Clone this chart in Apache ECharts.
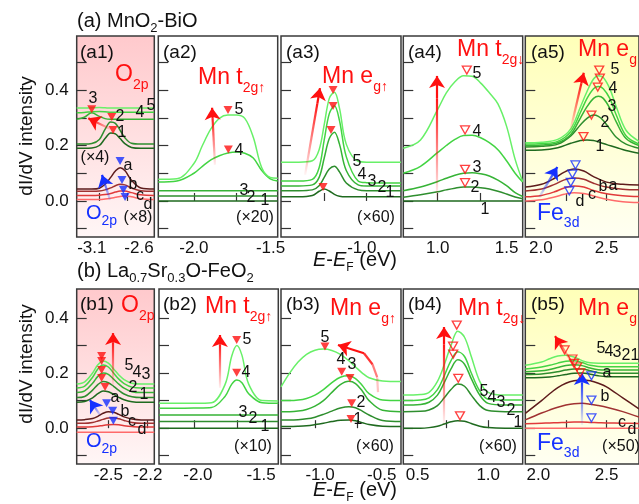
<!DOCTYPE html>
<html><head><meta charset="utf-8">
<script src="https://cdn.jsdelivr.net/npm/echarts@6/dist/echarts.min.js"></script>
<style>html,body{margin:0;padding:0;background:#fff}#c{width:639px;height:504px}</style>
</head><body><div id="c"></div>
<script>
// ================= DATA =================
const rowAY = [-0.13, 0.595];
const rowBY = [-0.13, 0.505];
const yTicksA = [-0.1, 0, 0.1, 0.2, 0.3, 0.4, 0.5];
const yTicksB = [-0.1, 0, 0.1, 0.2, 0.3, 0.4];
const yLabelVals = [0, 0.2, 0.4];
const xRanges = [[-3.26,-2.438],[-2.21,-1.506],[-1.505,-0.797],[0.8,1.494],[2.0,2.70],
                 [-2.741,-2.15],[-2.21,-1.505],[-1.201,-0.491],[0.498,1.204],[2.0,2.70]];
const xTickVals = [[-3.02,-2.72],[-2.0,-1.75],[-1.25,-1.0],[1.0,1.25],[2.25,2.5],
                   [-2.5,-2.2],[-2.0,-1.75],[-1.0,-0.75],[0.75,1.0],[2.25,2.5]];
const xLabelVals = [[-3.1,-2.6],[-2.0,-1.548],[-1.028],[1.0,1.40],[2.096,2.5],
                    [-2.5,-2.2],[-1.98,-1.607],[-0.97,-0.605],[0.583,1.0],[2.08,2.5]];
const xLabelTexts = [['-3.1','-2.6'],['-2.0','-1.5'],['-1.0'],['1.0','1.5'],['2.0','2.5'],
                     ['-2.5','-2.2'],['-2.0','-1.5'],['-1.0','-0.5'],['0.5','1.0'],['2.0','2.5']];

// ---- (a1) O2p
const a1X = [-3.26,-3.18,-3.1,-3.02,-2.96,-2.9,-2.85,-2.8,-2.75,-2.68,-2.58,-2.44];
const a1Green = [
  [0.19,0.19,0.191,0.2,0.225,0.245,0.242,0.225,0.207,0.193,0.19,0.19],
  [0.205,0.205,0.207,0.222,0.258,0.285,0.28,0.255,0.228,0.208,0.205,0.205],
  [0.295,0.302,0.318,0.305,0.297,0.295,0.295,0.295,0.295,0.295,0.295,0.295],
  [0.318,0.319,0.322,0.323,0.322,0.32,0.32,0.32,0.32,0.32,0.32,0.32],
  [0.335,0.335,0.336,0.337,0.336,0.335,0.335,0.335,0.335,0.335,0.335,0.335]
];
const a1Red = [
  [0.043,0.043,0.043,0.046,0.06,0.085,0.108,0.12,0.11,0.075,0.047,0.043],
  [0.035,0.035,0.035,0.036,0.04,0.047,0.055,0.06,0.058,0.047,0.037,0.035],
  [0.02,0.02,0.02,0.021,0.023,0.027,0.032,0.036,0.036,0.03,0.022,0.02],
  [0.005,0.005,0.005,0.005,0.007,0.01,0.013,0.016,0.018,0.015,0.008,0.005]
];
const a1PeakG = [[-3.101,0.331],[-2.889,0.303],[-2.875,0.256]];
const a1PeakR = [[-2.801,0.144],[-2.78,0.076],[-2.766,0.04],[-2.748,0.014]];

// ---- (a2) Mn t2g up
const a2X = [-2.21,-2.1,-2.0,-1.95,-1.9,-1.85,-1.8,-1.75,-1.7,-1.65,-1.6,-1.55,-1.506];
const a2Green = [
  [0,0,0,0,0,0,0,0,0,0,0,0,0],
  [0.018,0.018,0.018,0.018,0.018,0.018,0.018,0.018,0.018,0.018,0.018,0.018,0.018],
  [0.037,0.037,0.037,0.037,0.037,0.037,0.037,0.037,0.037,0.037,0.037,0.037,0.037],
  [0.068,0.072,0.10,0.125,0.148,0.163,0.173,0.177,0.172,0.155,0.11,0.08,0.072],
  [0.078,0.08,0.135,0.2,0.26,0.298,0.31,0.31,0.298,0.23,0.12,0.085,0.082]
];
const a2PeakG = [[-1.799,0.328],[-1.797,0.186]];

// ---- (a3) Mn eg up
const a3X = [-1.505,-1.4,-1.32,-1.28,-1.25,-1.22,-1.19,-1.16,-1.12,-1.05,-1.0,-0.9,-0.797];
const a3Green = [
  [0.015,0.015,0.02,0.035,0.043,0.036,0.024,0.017,0.015,0.015,0.015,0.015,0.015],
  [0.037,0.037,0.04,0.055,0.085,0.115,0.125,0.105,0.065,0.04,0.037,0.037,0.037],
  [0.054,0.054,0.058,0.085,0.155,0.225,0.248,0.205,0.11,0.058,0.054,0.054,0.054],
  [0.072,0.072,0.078,0.12,0.22,0.315,0.343,0.29,0.16,0.072,0.066,0.065,0.065],
  [0.14,0.14,0.145,0.185,0.275,0.37,0.392,0.335,0.205,0.143,0.14,0.14,0.14]
];
const a3PeakG = [[-1.198,0.40],[-1.198,0.3425],[-1.21,0.256],[-1.257,0.05]];

// ---- (a4) Mn t2g down
const a4X = [0.8,0.9,1.0,1.05,1.1,1.15,1.2,1.25,1.3,1.35,1.4,1.45,1.494];
const a4Green = [
  [0,0,0,0,0,0,0,0,0,0,0,0,0],
  [0.013,0.022,0.033,0.04,0.046,0.05,0.05,0.048,0.043,0.035,0.025,0.014,0.008],
  [0.037,0.05,0.07,0.082,0.093,0.1,0.102,0.098,0.09,0.075,0.055,0.03,0.016],
  [0.10,0.125,0.175,0.20,0.222,0.236,0.237,0.228,0.21,0.185,0.145,0.10,0.068],
  [0.19,0.22,0.33,0.39,0.43,0.452,0.45,0.425,0.39,0.35,0.27,0.15,0.07]
];
const a4PeakG = [[1.169,0.472],[1.159,0.256],[1.159,0.114],[1.159,0.066]];

// ---- (a5) Mn eg down / Fe3d
const a5X = [2.0,2.1,2.2,2.28,2.34,2.38,2.42,2.45,2.48,2.52,2.56,2.62,2.70];
const a5Green = [
  [0.183,0.184,0.192,0.208,0.218,0.22,0.218,0.213,0.207,0.2,0.193,0.182,0.172],
  [0.195,0.197,0.205,0.235,0.275,0.298,0.31,0.305,0.29,0.26,0.23,0.205,0.19],
  [0.2,0.202,0.21,0.24,0.3,0.34,0.37,0.378,0.37,0.335,0.285,0.225,0.2],
  [0.205,0.207,0.215,0.25,0.32,0.37,0.405,0.413,0.405,0.37,0.31,0.235,0.205],
  [0.21,0.212,0.222,0.26,0.34,0.395,0.44,0.452,0.445,0.405,0.34,0.255,0.215]
];
const a5RX = [2.0,2.1,2.18,2.24,2.3,2.36,2.42,2.5,2.6,2.7];
const a5Red = [
  [0.05,0.06,0.082,0.104,0.115,0.108,0.088,0.068,0.06,0.058],
  [0.036,0.043,0.06,0.076,0.083,0.078,0.064,0.05,0.042,0.04],
  [0.015,0.02,0.033,0.047,0.054,0.05,0.038,0.026,0.019,0.016],
  [0.0,0.004,0.014,0.024,0.03,0.027,0.018,0.006,-0.003,-0.006]
];
const a5PeakG = [[2.455,0.472],[2.459,0.443],[2.446,0.411],[2.407,0.31],[2.358,0.232]];
const a5PeakR = [[2.309,0.13],[2.29,0.097],[2.28,0.067],[2.271,0.036]];

// ---- (b1) O2p
const b1X = [-2.741,-2.68,-2.62,-2.58,-2.54,-2.5,-2.46,-2.42,-2.38,-2.32,-2.25,-2.15];
const b1Green = [
  [0.094,0.097,0.11,0.125,0.135,0.132,0.123,0.112,0.103,0.096,0.094,0.094],
  [0.111,0.115,0.138,0.158,0.169,0.165,0.152,0.137,0.124,0.114,0.111,0.111],
  [0.129,0.135,0.163,0.188,0.2,0.195,0.178,0.16,0.145,0.132,0.129,0.129],
  [0.146,0.153,0.185,0.215,0.229,0.222,0.2,0.178,0.162,0.149,0.146,0.146],
  [0.16,0.168,0.2,0.23,0.244,0.236,0.215,0.193,0.176,0.163,0.16,0.16]
];
const b1Red = [
  [0.03,0.031,0.035,0.043,0.054,0.06,0.058,0.05,0.041,0.033,0.03,0.03],
  [0.018,0.018,0.021,0.026,0.032,0.037,0.038,0.034,0.028,0.021,0.018,0.018],
  [0.004,0.004,0.005,0.007,0.01,0.012,0.013,0.012,0.009,0.006,0.004,0.004],
  [-0.015,-0.015,-0.015,-0.015,-0.015,-0.015,-0.015,-0.015,-0.015,-0.015,-0.015,-0.015]
];
const b1PeakG = [[-2.551,0.262],[-2.551,0.244],[-2.551,0.211],[-2.551,0.182],[-2.525,0.149]];
const b1PeakR = [[-2.513,0.09],[-2.467,0.063],[-2.462,0.027]];

// ---- (b2) Mn t2g up
const b2X = [-2.21,-2.1,-2.0,-1.9,-1.82,-1.78,-1.75,-1.72,-1.68,-1.6,-1.505];
const b2Green = [
  [0,0,0,0,0,0,0,0,0,0,0],
  [0.024,0.024,0.024,0.024,0.024,0.024,0.024,0.024,0.024,0.024,0.024],
  [0.048,0.048,0.048,0.048,0.048,0.048,0.048,0.048,0.048,0.048,0.048],
  [0.072,0.072,0.073,0.075,0.115,0.16,0.175,0.165,0.125,0.092,0.09],
  [0.09,0.09,0.09,0.092,0.158,0.262,0.3,0.265,0.16,0.1,0.099]
];
const b2PeakG = [[-1.751,0.32],[-1.751,0.201]];

// ---- (b3) Mn eg up
const b3X = [-1.201,-1.15,-1.1,-1.05,-1.0,-0.95,-0.9,-0.85,-0.8,-0.76,-0.72,-0.68,-0.6,-0.491];
const b3Green = [
  [0.006,0.006,0.007,0.009,0.013,0.018,0.024,0.029,0.03,0.027,0.02,0.013,0.007,0.006],
  [0.03,0.03,0.031,0.034,0.04,0.05,0.062,0.073,0.078,0.074,0.062,0.048,0.028,0.024],
  [0.06,0.06,0.062,0.068,0.08,0.1,0.13,0.158,0.17,0.162,0.135,0.1,0.065,0.06],
  [0.1,0.1,0.102,0.108,0.12,0.14,0.165,0.185,0.19,0.18,0.155,0.125,0.102,0.1],
  [0.15,0.2,0.24,0.268,0.283,0.287,0.282,0.268,0.245,0.222,0.2,0.183,0.171,0.169]
];
const b3PeakG = [[-0.941,0.296],[-0.842,0.205],[-0.793,0.182],[-0.783,0.09],[-0.787,0.033]];

// ---- (b4) Mn t2g down
const b4X = [0.498,0.6,0.65,0.7,0.74,0.78,0.82,0.86,0.9,0.95,1.0,1.1,1.204];
const b4Green = [
  [0.0,0.0,0.002,0.007,0.015,0.023,0.027,0.025,0.017,0.007,0.002,0.0,0.0],
  [0.06,0.061,0.066,0.082,0.11,0.14,0.16,0.152,0.12,0.082,0.064,0.06,0.06],
  [0.084,0.086,0.094,0.12,0.165,0.215,0.248,0.232,0.18,0.12,0.09,0.084,0.084],
  [0.1,0.102,0.11,0.14,0.19,0.245,0.277,0.26,0.2,0.135,0.105,0.102,0.102],
  [0.12,0.122,0.13,0.17,0.23,0.3,0.352,0.33,0.26,0.17,0.13,0.12,0.12]
];
const b4PeakG = [[0.814,0.374],[0.792,0.298],[0.793,0.269],[0.823,0.181],[0.833,0.045]];

// ---- (b5) Mn eg down / Fe3d
const b5X = [2.0,2.1,2.15,2.2,2.25,2.3,2.35,2.4,2.45,2.5,2.6,2.7];
const b5Green = [
  [0.183,0.184,0.186,0.19,0.195,0.199,0.2,0.196,0.19,0.187,0.187,0.187],
  [0.195,0.197,0.2,0.205,0.211,0.215,0.215,0.208,0.201,0.199,0.199,0.199],
  [0.205,0.208,0.213,0.22,0.227,0.23,0.227,0.218,0.212,0.211,0.211,0.211],
  [0.215,0.222,0.228,0.236,0.243,0.245,0.238,0.228,0.224,0.223,0.223,0.223],
  [0.228,0.24,0.252,0.262,0.265,0.258,0.245,0.237,0.236,0.236,0.236,0.236]
];
const b5Red = [
  [0.054,0.1,0.125,0.147,0.163,0.172,0.175,0.172,0.163,0.15,0.11,0.07],
  [0.03,0.055,0.066,0.076,0.084,0.089,0.09,0.087,0.082,0.076,0.06,0.04],
  [0.016,0.018,0.019,0.02,0.021,0.022,0.022,0.021,0.02,0.019,0.018,0.017],
  [0,0,0,0,0,0,0,0,0,0,0,0]
];
const b5PeakG = [[2.242,0.284],[2.29,0.251],[2.3,0.235],[2.319,0.222],[2.338,0.201]];
const b5PeakR = [[2.407,0.19],[2.407,0.102],[2.407,0.037]];

// ================= BUILD =================
const FF = "'Liberation Sans', Arial, Helvetica, sans-serif";
const GREENS = ['#1f6a1f','#2e8e2e','#36b336','#43d443','#68f068'];
const REDS = ['#5e1c1c','#a03232','#e03a3a','#ff6a6a'];
const RED = '#ff1010', BLUE = '#1530ff';

const rects = [
  [76.7,36,77.6,201],[158.3,36,119.4,201],[281,36,120,201],[403.3,36,119.4,201],[525.3,36,120,201],
  [76.7,289,77.6,175],[159,289,119.3,175],[281,289,120,175],[403.3,289,119.4,175],[525.3,289,120,175]
];
const pink = {type:'linear',x:0,y:0,x2:0,y2:1,colorStops:[{offset:0,color:'#ffc9cc'},{offset:1,color:'#fff6f6'}]};
const yellow = {type:'linear',x:0,y:0,x2:0,y2:1,colorStops:[{offset:0,color:'#ffffb8'},{offset:1,color:'#fffff2'}]};

const grids = rects.map((r,i)=>({
  left:r[0], top:r[1], width:r[2], height:r[3], show:true,
  borderColor:'#3a3a3a', borderWidth:1.5,
  backgroundColor: (i===0||i===5) ? pink : (i===4||i===9) ? yellow : '#fff'
}));

const xAxes = rects.map((r,i)=>({
  gridIndex:i, type:'value', min:xRanges[i][0], max:xRanges[i][1],
  axisLine:{show:false}, splitLine:{show:false},
  axisTick:{show:true, inside:true, length:8, customValues:xTickVals[i], lineStyle:{color:'#333',width:1.2}},
  axisLabel:{show:true, customValues:xLabelVals[i], margin:3, fontSize:17, fontFamily:FF, color:'#111',
    formatter:(v)=>{let b=0,d=1e9; xLabelVals[i].forEach((u,k)=>{if(Math.abs(u-v)<d){d=Math.abs(u-v);b=k;}}); return xLabelTexts[i][b];}}
}));
const yAxes = rects.map((r,i)=>{
  const rg = i<5 ? rowAY : rowBY;
  return {
    gridIndex:i, type:'value', min:rg[0], max:rg[1],
    axisLine:{show:false}, splitLine:{show:false},
    axisTick:{show:true, inside:true, length:10, customValues: i<5?yTicksA:yTicksB, lineStyle:{color:'#333',width:1.2}},
    axisLabel:{show:(i===0||i===5), customValues:yLabelVals, margin:8, fontSize:17, fontFamily:FF, color:'#111',
      formatter:(v)=>v.toFixed(1)}
  };
});

const series = [];
function curves(gi, xs, list, colors){
  list.forEach((ys,k)=>{
    series.push({type:'line', xAxisIndex:gi, yAxisIndex:gi, data:xs.map((x,j)=>[x,ys[j]]),
      smooth:0.35, showSymbol:false, symbol:'none', silent:true, z:2,
      lineStyle:{color:colors[k], width:1.5}});
  });
}
function marks(gi, pts, color, open){
  series.push({type:'scatter', xAxisIndex:gi, yAxisIndex:gi, data:pts, symbol:'triangle', symbolRotate:180,
    symbolSize:[9,8], silent:true, z:5,
    itemStyle: open ? {color:'rgba(255,255,255,0)', borderColor:color, borderWidth:1.3} : {color:color}});
}
function seg(gi, p, q, style, head){
  series.push({type:'line', xAxisIndex:gi, yAxisIndex:gi, data:[], silent:true, z:4,
    markLine:{silent:true, animation:false, symbol:['none', head?'arrow':'none'], symbolSize:12, label:{show:false},
      lineStyle:Object.assign({width:2.2, type:'solid'}, style), data:[[{coord:p},{coord:q}]]}});
}
function arrow(gi, t, h, color, fade){
  const right = h[0]>=t[0], up = h[1]>=t[1];
  const grad = {type:'linear', x:right?0:1, y:up?1:0, x2:right?1:0, y2:up?0:1,
    colorStops:[{offset:0,color:fade},{offset:1,color:color}]};
  const k = 0.82;
  const m = [t[0]+(h[0]-t[0])*k, t[1]+(h[1]-t[1])*k];
  seg(gi, t, m, {color:grad}, false);
  seg(gi, m, h, {color:color}, true);
}
// bent arrow through a list of points (tail ... head), fading toward the tail
function bentArrow(gi, pts, color){
  for (let i=0;i<pts.length-1;i++){
    const last = i===pts.length-2;
    seg(gi, pts[i], pts[i+1], {color:color, opacity: last?1:0.25+0.3*i}, last);
  }
}
const RF = 'rgba(255,0,0,0)', BF = 'rgba(30,60,255,0)';

curves(0, a1X, a1Red, REDS); curves(0, a1X, a1Green, GREENS);
marks(0, a1PeakG, RED, false); marks(0, a1PeakR, BLUE, false);
arrow(0, [-2.906,0.26], [-3.137,0.298], RED, RF); arrow(0, [-2.907,0.0035], [-2.992,0.094], BLUE, BF);

curves(1, a2X, a2Green, GREENS); marks(1, a2PeakG, RED, false);
arrow(1, [-1.876,0.13], [-1.893,0.336], RED, RF);

curves(2, a3X, a3Green, GREENS); marks(2, a3PeakG, RED, false);
arrow(2, [-1.363,0.094], [-1.275,0.407], RED, RF);

curves(3, a4X, a4Green, GREENS); marks(3, a4PeakG, RED, true);
arrow(3, [0.996,0.0035], [0.996,0.451], RED, RF);

curves(4, a5RX, a5Red, REDS); curves(4, a5X, a5Green, GREENS);
marks(4, a5PeakG, RED, true); marks(4, a5PeakR, BLUE, true);
arrow(4, [2.278,0.256], [2.36,0.462], RED, RF); arrow(4, [2.086,0.014], [2.197,0.1225], BLUE, BF);

curves(5, b1X, b1Red, REDS); curves(5, b1X, b1Green, GREENS);
marks(5, b1PeakG, RED, false); marks(5, b1PeakR, BLUE, false);
arrow(5, [-2.464,0.157], [-2.464,0.345], RED, RF); arrow(5, [-2.564,0.048], [-2.64,0.102], BLUE, BF);

curves(6, b2X, b2Green, GREENS); marks(6, b2PeakG, RED, false);
arrow(6, [-1.85,0.146], [-1.85,0.338], RED, RF);

curves(7, b3X, b3Green, GREENS); marks(7, b3PeakG, RED, false);
bentArrow(7, [[-0.627,0.131],[-0.632,0.185],[-0.66,0.232],[-0.71,0.272],[-0.864,0.302]], RED);

curves(8, b4X, b4Green, GREENS); marks(8, b4PeakG, RED, true);
arrow(8, [0.739,0.0115], [0.739,0.367], RED, RF);

curves(9, b5X, b5Red, REDS); curves(9, b5X, b5Green, GREENS);
marks(9, b5PeakG, RED, true); marks(9, b5PeakR, BLUE, true);
arrow(9, [2.348,0.0115], [2.348,0.2], BLUE, BF); arrow(9, [2.278,0.247], [2.183,0.334], RED, RF);

// ================= TEXT =================
function RS(color, m, s, drop){
  return {
    m:{fontSize:m, fontFamily:FF, fill:color, lineHeight:m, verticalAlign:'bottom', padding:[0,0,drop,0]},
    i:{fontSize:m, fontFamily:FF, fill:color, lineHeight:m, verticalAlign:'bottom', padding:[0,0,drop,0], fontStyle:'italic'},
    s:{fontSize:s, fontFamily:FF, fill:color, lineHeight:s, verticalAlign:'bottom'}
  };
}
function rich(x, cy, text, color, m, s, drop, extra){
  return Object.assign({type:'text', x:x, y:cy+drop/2, silent:true, z:10,
    style:{text:text, rich:RS(color,m,s,drop), align:'left', verticalAlign:'middle'}}, extra||{});
}
function plain(x, y, text, size, color, align){
  return {type:'text', x:x, y:y, silent:true, z:10,
    style:{text:text, fill:color||'#111', font:size+'px '+FF, align:align||'center', verticalAlign:'middle'}};
}
const G = [];
G.push(rich(77, 23, '{m|(a) MnO}{s|2}{m|-BiO}', '#111', 20, 13, 4));
G.push(rich(77, 273, '{m|(b) La}{s|0.7}{m|Sr}{s|0.3}{m|O-FeO}{s|2}', '#111', 20, 13, 4));
[['(a1)',80,53],['(a2)',163,53],['(a3)',286,53],['(a4)',408,53],['(a5)',531,53],
 ['(b1)',80,305],['(b2)',163,305],['(b3)',286,305],['(b4)',408,305],['(b5)',531,305]]
 .forEach(p=>G.push(plain(p[1],p[2],p[0],19,'#111','left')));
G.push(rich(115, 78, '{m|O}{s|2p}', RED, 23, 14, 6));
G.push(rich(198, 81, '{m|Mn t}{s|2g↑}', RED, 23, 14, 6));
G.push(rich(322, 80, '{m|Mn e}{s|g↑}', RED, 23, 14, 6));
G.push(rich(457, 53, '{m|Mn t}{s|2g↓}', RED, 23, 14, 6));
G.push(rich(578, 53, '{m|Mn e}{s|g↓}', RED, 23, 14, 6));
G.push(rich(86, 216, '{m|O}{s|2p}', BLUE, 20, 14, 5));
G.push(rich(537, 216, '{m|Fe}{s|3d}', BLUE, 23, 14, 5));
G.push(rich(121, 309, '{m|O}{s|2p}', RED, 23, 14, 6));
G.push(rich(205, 310, '{m|Mn t}{s|2g↑}', RED, 23, 14, 6));
G.push(rich(330, 312, '{m|Mn e}{s|g↑}', RED, 23, 14, 6));
G.push(rich(458, 312, '{m|Mn t}{s|2g↓}', RED, 23, 14, 6));
G.push(rich(578, 312, '{m|Mn e}{s|g↓}', RED, 23, 14, 6));
G.push(rich(86, 444, '{m|O}{s|2p}', BLUE, 20, 14, 5));
G.push(rich(537, 446, '{m|Fe}{s|3d}', BLUE, 23, 14, 5));
[['(×4)',95,158],['(×8)',138,218],['(×20)',255,218],['(×60)',376,218],
 ['(×10)',253,447],['(×60)',375,447],['(×60)',498,447],['(×50)',621,447]]
 .forEach(p=>G.push(plain(p[1],p[2],p[0],16)));
const curveTags = [
 ['3',93,99],['2',120,117],['1',122,133],['4',140,113],['5',151,106],['a',128,166],['b',133,185],['c',140,196],['d',148,205],
 ['5',239,110],['4',239,151],['3',244,191],['2',251,198],['1',265,201],
 ['5',357,162],['4',362,175],['3',372,182],['2',382,188],['1',390,193],
 ['5',477,74],['4',477,132],['3',477,168],['2',475,188],['1',485,210],
 ['5',615,70],['4',613,89],['3',612,107],['2',605,123],['1',600,147],['a',613,186],['b',603,187],['c',592,195],['d',580,202],
 ['5',129,366],['4',137,373],['3',146,375],['2',133,388],['1',144,395],['a',115,398],['b',125,412],['c',132,422],['d',142,430],
 ['5',247,340],['4',246,373],['3',243,413],['2',253,419],['1',265,427],
 ['5',325,338],['4',341,360],['3',352,365],['2',361,403],['1',358,420],
 ['5',484,392],['4',492,398],['3',501,403],['2',511,411],['1',518,423],
 ['5',601,349],['4',609,352],['3',617,353],['2',626,356],['1',635,356],['a',607,373],['b',605,397],['c',622,423],['d',632,430]
];
curveTags.forEach(p=>G.push(plain(p[1],p[2],p[0],16)));
[136,364].forEach(cy=>G.push({type:'text', x:27, y:cy, rotation:Math.PI/2, silent:true, z:10,
  style:{text:'dI/dV intensity', fill:'#111', font:'19px '+FF, align:'center', verticalAlign:'middle'}}));
[262,492].forEach(cy=>G.push(rich(313, cy, '{i|E}{m|-}{i|E}{s|F}{m| (eV)}', '#111', 20, 12, 4)));

const chart = echarts.init(document.getElementById('c'), null, {renderer:'canvas'});
chart.setOption({
  animation:false, backgroundColor:'#fff',
  grid:grids, xAxis:xAxes, yAxis:yAxes, series:series,
  graphic:{elements:G}
});
</script></body></html>
